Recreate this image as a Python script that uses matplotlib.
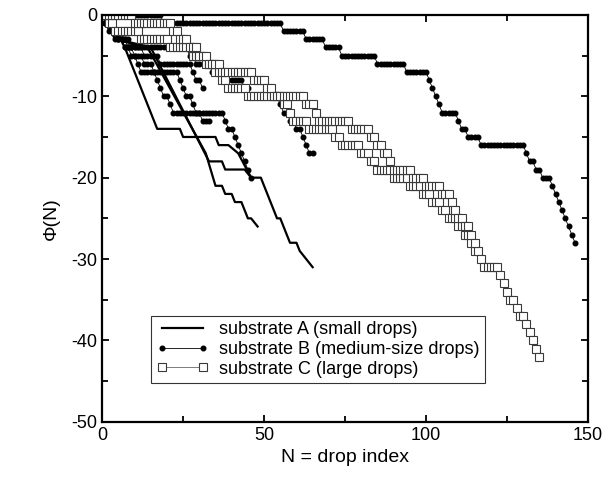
import numpy as np
import matplotlib
matplotlib.use("Agg")
import matplotlib.pyplot as plt
from matplotlib.ticker import MultipleLocator

plt.rcParams['font.family'] = ['Liberation Sans', 'DejaVu Sans']
plt.rcParams['axes.unicode_minus'] = False

# substrate A (small drops): solid lines, vertices (N, phi)
A1_x = [0, 3, 7, 13, 17, 24, 25, 35, 36, 39, 42, 46, 49, 54, 55, 58, 60, 61, 65]
A1_y = [0, -1, -4, -10, -14, -14, -15, -15, -16, -16, -17, -20, -20, -25, -25, -28, -28, -29, -31]
A2_x = [0, 4, 14, 32, 35, 37, 38, 40, 41, 43, 45, 46, 48]
A2_y = [0, -3, -4, -17, -21, -21, -22, -22, -23, -23, -25, -25, -26]
A3_x = [0, 5, 15, 33, 37, 38, 44, 46]
A3_y = [0, -3, -4, -18, -18, -19, -19, -20]

# substrates B and C: number of consecutive drops spent at phi = 0, -1, -2, ...
B1_runs = [19, 37, 7, 6, 5, 11, 9, 7, 1, 1, 1, 1, 5, 1, 2, 4, 14, 1, 2, 2, 3, 1, 1, 1, 1, 1, 1, 1, 1]
B2_runs = [1, 2, 2, 4, 18, 2, 5, 3, 7, 2, 9, 1, 2, 2, 2, 1, 1, 2]
B3_runs = [1, 1, 2, 3, 3, 3, 3, 1, 1, 1, 2, 1, 16, 1, 2, 1, 1, 1, 1, 1, 1]
B4_runs = [1, 2, 2, 2, 2, 2, 1, 12, 1, 1, 2, 1, 2, 3]
B5_runs = [2, 2, 2, 2, 5, 5, 10, 1, 2, 1]

C1_runs = [2, 2, 8, 9, 7, 4, 3, 2, 2, 6, 11, 2, 1, 5, 8, 2, 6, 3, 2, 5, 5, 4, 3, 3, 2, 3, 2, 2, 1, 2,
           1, 5, 1, 1, 1, 2, 1, 2, 1, 1, 1, 1, 1]
C2_runs = [10, 12, 2, 3, 3, 3, 4, 10, 4, 2, 10, 3, 1, 10, 6, 2, 2, 2, 1, 6, 4, 5, 3, 1, 1, 2, 2, 1, 1]

A_lines = [(A1_x, A1_y), (A2_x, A2_y), (A3_x, A3_y)]
B_series = [B1_runs, B2_runs, B3_runs, B4_runs, B5_runs]
C_series = [C1_runs, C2_runs]


def phi_from_runs(runs):
    phi = np.repeat(-np.arange(len(runs)), runs)
    return np.arange(len(phi)), phi


fig = plt.figure(figsize=(6.08, 4.82), dpi=100)
ax = fig.add_axes([0.168, 0.125, 0.799, 0.844])

for i, (x, y) in enumerate(A_lines):
    ax.plot(x, y, color='black', lw=1.6,
            label='substrate A (small drops)' if i == 0 else None)

for i, runs in enumerate(B_series):
    n, phi = phi_from_runs(runs)
    ax.plot(n, phi, color='black', lw=0.6, marker='o', ms=3.3, mec='black', mfc='black',
            label='substrate B (medium-size drops)' if i == 0 else None)

for i, runs in enumerate(C_series):
    n, phi = phi_from_runs(runs)
    ax.plot(n, phi, color='#666666', lw=0.6, marker='s', ms=5.2, mfc='white', mec='#3a3a3a', mew=0.8,
            label='substrate C (large drops)' if i == 0 else None)

ax.set_xlim(0, 150)
ax.set_ylim(-50, 0)
ax.xaxis.set_major_locator(MultipleLocator(50))
ax.xaxis.set_minor_locator(MultipleLocator(25))
ax.yaxis.set_major_locator(MultipleLocator(10))
ax.yaxis.set_minor_locator(MultipleLocator(5))
ax.tick_params(which='both', direction='in', top=True, right=True, labelsize=13, width=1.3)
ax.tick_params(which='major', length=5)
ax.tick_params(which='minor', length=4)
for s in ax.spines.values():
    s.set_linewidth(1.6)

ax.set_xlabel('N = drop index', fontsize=14)
ax.set_ylabel('Φ(N)', fontsize=14, labelpad=8)

leg = ax.legend(loc='lower left', bbox_to_anchor=(0.1, 0.095), numpoints=2, fontsize=13,
                frameon=True, fancybox=False, handlelength=2.9, borderpad=0.3,
                labelspacing=0.15, handletextpad=0.6, borderaxespad=0)
leg.get_frame().set_edgecolor('black')
leg.get_frame().set_linewidth(0.8)

fig.savefig('out.png', dpi=100)
